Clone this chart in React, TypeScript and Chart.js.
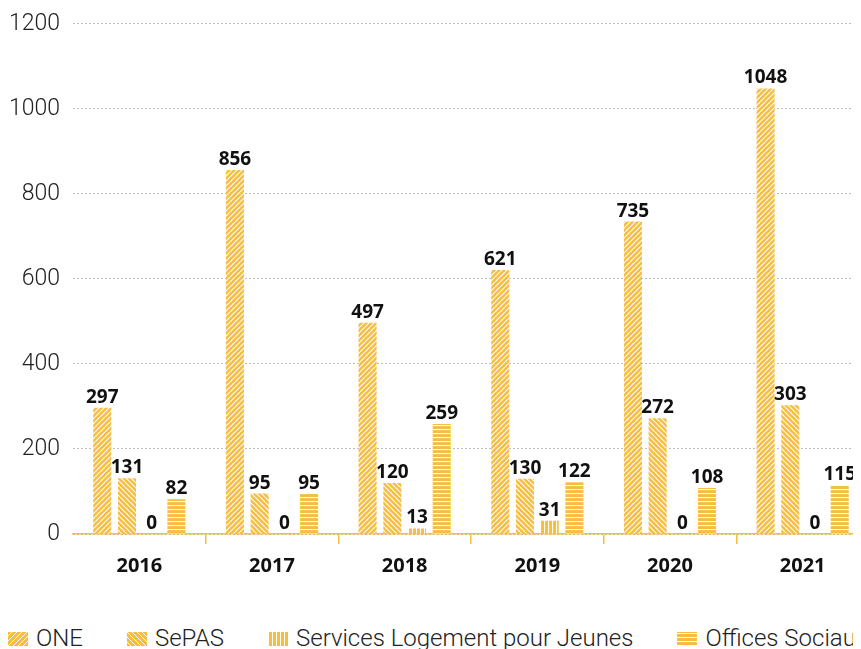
import React, { useEffect, useRef } from 'react';
import { Chart, registerables } from 'chart.js';

Chart.register(...registerables);

const categories = ['2016', '2017', '2018', '2019', '2020', '2021'];
const seriesNames = ['ONE', 'SePAS', 'Services Logement pour Jeunes', 'Offices Sociaux'];
const oneValues = [297, 856, 497, 621, 735, 1048];
const sepasValues = [131, 95, 120, 130, 272, 303];
const sljValues = [0, 0, 13, 31, 0, 0];
const officesValues = [82, 95, 259, 122, 108, 115];
const yTickValues = [0, 200, 400, 600, 800, 1000, 1200];

const YELLOW = '#F5BD42';
const STRIPE = 'rgba(255,255,255,0.95)';
const patternKinds = ['fwd', 'back', 'vert', 'horiz'];

function makePattern(kind: string): CanvasPattern | string {
  const size = kind === 'horiz' || kind === 'vert' ? 4 : 5;
  const c = document.createElement('canvas');
  c.width = size;
  c.height = size;
  const ctx = c.getContext('2d');
  if (!ctx) return YELLOW;
  ctx.fillStyle = YELLOW;
  ctx.fillRect(0, 0, size, size);
  ctx.strokeStyle = STRIPE;
  ctx.lineWidth = 1.2;
  ctx.beginPath();
  if (kind === 'horiz') {
    ctx.moveTo(0, 0.5);
    ctx.lineTo(size, 0.5);
  } else if (kind === 'vert') {
    ctx.moveTo(0.5, 0);
    ctx.lineTo(0.5, size);
  } else if (kind === 'fwd') {
    for (let k = -1; k <= 1; k++) {
      ctx.moveTo(k * size, size);
      ctx.lineTo(k * size + size, 0);
    }
  } else {
    for (let k = -1; k <= 1; k++) {
      ctx.moveTo(k * size, 0);
      ctx.lineTo(k * size + size, size);
    }
  }
  ctx.stroke();
  return ctx.createPattern(c, 'repeat') || YELLOW;
}

const swatchCss: Record<string, string> = {
  fwd: `repeating-linear-gradient(135deg, ${YELLOW} 0px, ${YELLOW} 2.6px, #fff 2.6px, #fff 3.5px)`,
  back: `repeating-linear-gradient(45deg, ${YELLOW} 0px, ${YELLOW} 2.6px, #fff 2.6px, #fff 3.5px)`,
  vert: `repeating-linear-gradient(90deg, #fff 0px, #fff 1px, ${YELLOW} 1px, ${YELLOW} 4px)`,
  horiz: `repeating-linear-gradient(0deg, #fff 0px, #fff 1px, ${YELLOW} 1px, ${YELLOW} 4px)`,
};

const valueLabels = {
  id: 'valueLabels',
  afterDatasetsDraw(chart: any) {
    const ctx = chart.ctx;
    ctx.save();
    ctx.font = '700 19px "Noto Sans"';
    ctx.fillStyle = '#111';
    ctx.textAlign = 'center';
    ctx.textBaseline = 'alphabetic';
    chart.data.datasets.forEach((ds: any, i: number) => {
      const meta = chart.getDatasetMeta(i);
      meta.data.forEach((el: any, j: number) => {
        ctx.fillText(String(ds.data[j]), el.x, el.y - 5);
      });
    });
    ctx.restore();
  },
};

export default function App() {
  const canvasRef = useRef<HTMLCanvasElement | null>(null);

  useEffect(() => {
    document.documentElement.style.overflow = 'hidden';
    if (!canvasRef.current) return;
    const seriesValues = [oneValues, sepasValues, sljValues, officesValues];
    const chart = new Chart(canvasRef.current, {
      type: 'bar',
      data: {
        labels: categories,
        datasets: seriesNames.map((name, i) => ({
          label: name,
          data: seriesValues[i],
          backgroundColor: makePattern(patternKinds[i]) as any,
          borderWidth: 0,
          barPercentage: 0.73,
          categoryPercentage: 0.745,
        })),
      },
      options: {
        animation: false,
        responsive: false,
        maintainAspectRatio: false,
        devicePixelRatio: 1,
        layout: { padding: { top: 0, right: 0, bottom: 0, left: 8 } },
        plugins: {
          legend: { display: false },
          tooltip: { enabled: false },
        },
        scales: {
          x: {
            grid: {
              display: true,
              drawOnChartArea: false,
              drawTicks: true,
              tickLength: 10,
              color: (c: any) => (c.index === 0 ? 'rgba(0,0,0,0)' : YELLOW),
              lineWidth: 1.5,
            },
            border: { display: true, color: YELLOW, width: 1.5 },
            ticks: {
              color: '#111',
              padding: 10,
              font: { family: '"Noto Sans"', size: 20, weight: 'bold' },
            },
          },
          y: {
            min: 0,
            max: 1200,
            afterFit: (scale: any) => {
              scale.width = 65;
            },
            afterBuildTicks: (scale: any) => {
              scale.ticks = yTickValues.map((v) => ({ value: v }));
            },
            grid: {
              color: '#bdbdbd',
              lineWidth: 1,
              drawTicks: false,
            },
            border: { display: false, dash: [2, 2] },
            ticks: {
              color: '#222',
              padding: 13,
              callback: (v: any) => String(v),
              font: { family: 'Roboto', size: 23, weight: '300' },
            },
          },
        },
      },
      plugins: [valueLabels],
    } as any);
    return () => chart.destroy();
  }, []);

  return (
    <div style={{ width: 869, marginLeft: -8, position: 'relative' }}>
      <canvas
        ref={canvasRef}
        width={869}
        height={591}
        style={{ display: 'block', width: 869, height: 591, marginTop: -11 }}
      />
      <div
        style={{
          marginTop: 38,
          paddingLeft: 8,
          display: 'flex',
          alignItems: 'baseline',
          whiteSpace: 'nowrap',
          fontFamily: 'Roboto',
          fontWeight: 300,
          fontSize: 24,
          lineHeight: '24px',
          color: '#222',
        }}
      >
        {seriesNames.map((name, i) => (
          <span key={name} style={{ display: 'inline-flex', alignItems: 'baseline', marginRight: 44, flexShrink: 0 }}>
            <span
              style={{
                display: 'inline-block',
                width: 20,
                height: 14,
                marginRight: 8,
                background: swatchCss[patternKinds[i]],
              }}
            />
            {name}
          </span>
        ))}
      </div>
    </div>
  );
}
